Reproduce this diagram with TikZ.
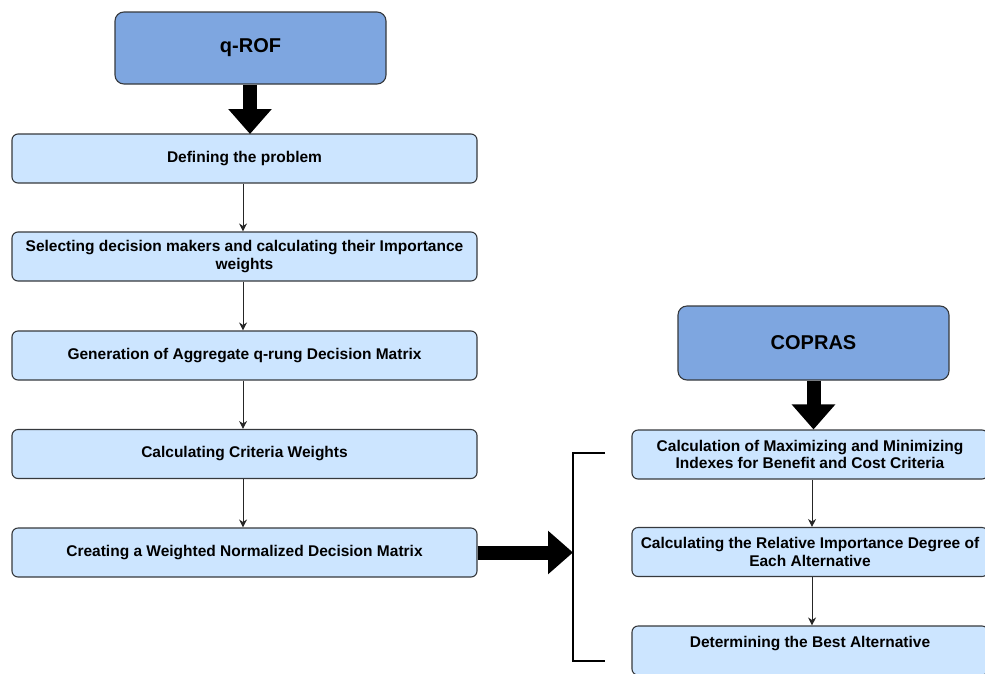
\documentclass[tikz,border=0pt]{standalone}
\usepackage{fontspec}
\setmainfont{Liberation Sans}
\usetikzlibrary{arrows.meta}
\definecolor{titlefill}{HTML}{7EA6E0}
\definecolor{stepfill}{HTML}{CCE5FF}
\definecolor{edgegray}{HTML}{36393D}
\tikzset{
  titlebox/.style={draw=edgegray, line width=1.1pt, fill=titlefill, rounded corners=9pt,
    minimum width=271pt, inner sep=0pt, font=\fontsize{20}{24}\selectfont\bfseries},
  stepbox/.style={draw=edgegray, line width=1.1pt, fill=stepfill, rounded corners=6pt,
    minimum height=49pt, inner sep=0pt, align=center,
    font=\fontsize{15.5}{17.8}\selectfont\bfseries},
  bigarrow/.style={line width=14pt, -{Triangle[width=42pt,length=25pt]}},
  thinarrow/.style={draw=black!85, line width=0.9pt, -{Stealth[length=8pt,width=8pt]}},
  bracket/.style={draw=black, line width=1.6pt}
}
\begin{document}
\begin{tikzpicture}[x=1pt,y=-1pt]
\useasboundingbox (0,0) rectangle (985,673);
\clip (0,0) rectangle (985,673);
% left column
\node[titlebox, minimum height=72pt] (qrof) at (250.5,48) {q-ROF};
\node[stepbox, minimum width=465pt] (d1) at (244.5,158.5) {Defining the problem};
\node[stepbox, minimum width=465pt] (d2) at (244.5,256.5) {Selecting decision makers and calculating their Importance\\weights};
\node[stepbox, minimum width=465pt] (d3) at (244.5,355.5) {Generation of Aggregate q-rung Decision Matrix};
\node[stepbox, minimum width=465pt] (d4) at (244.5,454) {Calculating Criteria Weights};
\node[stepbox, minimum width=465pt] (d5) at (244.5,552.5) {Creating a Weighted Normalized Decision Matrix};
% right column
\node[titlebox, minimum height=74pt] (copras) at (813.5,343) {COPRAS};
\node[stepbox, minimum width=356pt] (r1) at (810,454.5) {Calculation of Maximizing and Minimizing\\Indexes for Benefit and Cost Criteria};
\node[stepbox, minimum width=356pt] (r2) at (810,552) {Calculating the Relative Importance Degree of\\Each Alternative};
\node[stepbox, minimum width=356pt] (r3) at (810,650.5) {Determining the Best Alternative\\\mbox{}};
% big arrows
\draw[bigarrow] (qrof.south -| 250,0) -- (250,134);
\draw[bigarrow] (copras.south) -- (copras.south |- r1.north);
\coordinate (bt) at (573,453);
\coordinate (bm) at (573,552.5);
\coordinate (bb) at (573,661);
\draw[bigarrow] (d5.east) -- (bm);
\draw[bracket] (605,453) -- (bt) -- (bb) -- (605,661);
% thin arrows
\draw[thinarrow] (d1.south -| 243,0) -- (d2.north -| 243,0);
\draw[thinarrow] (d2.south -| 243,0) -- (d3.north -| 243,0);
\draw[thinarrow] (d3.south -| 243,0) -- (d4.north -| 243,0);
\draw[thinarrow] (d4.south -| 243,0) -- (d5.north -| 243,0);
\draw[thinarrow] (r1.south -| 812,0) -- (r2.north -| 812,0);
\draw[thinarrow] (r2.south -| 812,0) -- (r3.north -| 812,0);
\end{tikzpicture}
\end{document}
